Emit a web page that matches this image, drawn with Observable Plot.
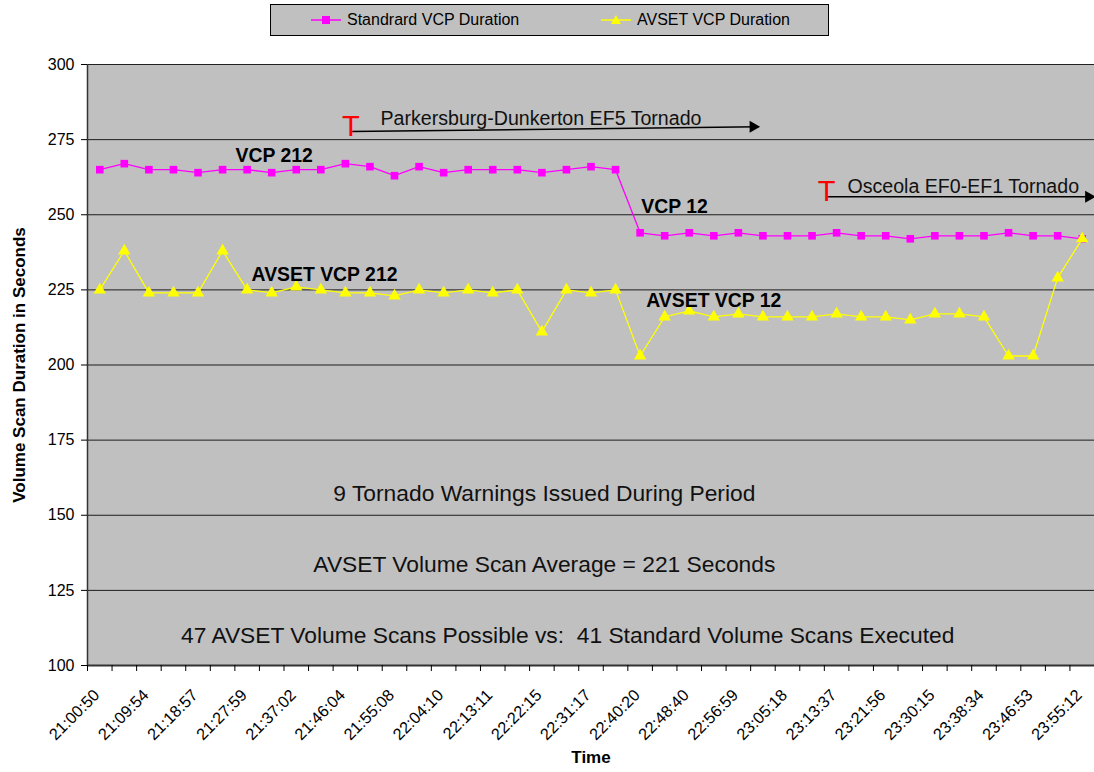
<!DOCTYPE html>
<html>
<head>
<meta charset="utf-8">
<script src="https://cdn.jsdelivr.net/npm/d3@7"></script>
<script src="https://cdn.jsdelivr.net/npm/@observablehq/plot@0.6"></script>
<style>
  body { margin: 0; background: #fff; font-family: "Liberation Sans", Arial, sans-serif; }
  #wrap { position: relative; width: 1094px; height: 772px; }
  #legend { position: absolute; left: 270px; top: 4px; width: 557px; height: 30px; background: #c0c0c0; border: 1px solid #000; }
  .item { position: absolute; top: 0; height: 30px; display: flex; align-items: center; font-size: 16px; color: #000; }
  .item svg { margin-right: 6px; }
  #chart { position: absolute; left: 0; top: 40px; }
</style>
</head>
<body>
<div id="wrap">
  <div id="legend"></div>
  <div id="chart"></div>
</div>
<script>
// ---- data ----
const tickLabels = ["21:00:50","21:09:54","21:18:57","21:27:59","21:37:02","21:46:04","21:55:08","22:04:10","22:13:11","22:22:15","22:31:17","22:40:20","22:48:40","22:56:59","23:05:18","23:13:37","23:21:56","23:30:15","23:38:34","23:46:53","23:55:12"];
const standardVCP = [265,267,265,265,264,265,265,264,265,265,267,266,263,266,264,265,265,265,264,265,266,265,244,243,244,243,244,243,243,243,244,243,243,242,243,243,243,244,243,243,242];
const avsetVCP = [225,238,224,224,224,238,225,224,226,225,224,224,223,225,224,225,224,225,211,225,224,225,203,216,218,216,217,216,216,216,217,216,216,215,217,217,216,203,203,229,242];
const seriesNames = ["Standrard VCP Duration", "AVSET VCP Duration"];
const seriesColors = ["#ff00ff", "#ffff00"];
const yTicks = [100,125,150,175,200,225,250,275,300];

const vcpLabels = [
  {text: "VCP 212", x: 7.1, y: 269.7},
  {text: "AVSET VCP 212", x: 9.15, y: 230},
  {text: "VCP 12", x: 23.4, y: 252.7},
  {text: "AVSET VCP 12", x: 25.0, y: 221.3}
];
const notes = [
  {text: "9 Tornado Warnings Issued During Period", x: 18.1, y: 157.3},
  {text: "AVSET Volume Scan Average = 221 Seconds", x: 18.1, y: 133.7},
  {text: "47 AVSET Volume Scans Possible vs:  41 Standard Volume Scans Executed", x: 19.05, y: 110}
];
const events = [
  {text: "Parkersburg-Dunkerton EF5 Tornado", tx: 11.43, ty: 282, x1: 10.22, y1: 277.7, x2: 26.82, y2: 279.3},
  {text: "Osceola EF0-EF1 Tornado", tx: 30.44, ty: 259.3, x1: 29.59, y1: 256, x2: 40.48, y2: 256}
];

// ---- legend ----
const legend = document.getElementById("legend");
const legendLeft = [40, 330];
seriesNames.forEach((name, i) => {
  const div = document.createElement("div");
  div.className = "item";
  div.style.left = legendLeft[i] + "px";
  const marker = i === 0
    ? `<rect x="11" y="5" width="8" height="8" fill="${seriesColors[i]}"/>`
    : `<path d="M15,4 L20,13 L10,13 Z" fill="${seriesColors[i]}"/>`;
  div.innerHTML = `<svg width="30" height="18"><line x1="0" x2="30" y1="9" y2="9" stroke="${seriesColors[i]}" stroke-width="1.5"/>${marker}</svg><span>${name}</span>`;
  legend.appendChild(div);
});

// ---- chart ----
const std = standardVCP.map((v, i) => ({i, v}));
const avs = avsetVCP.map((v, i) => ({i, v}));
const n = standardVCP.length;

const chart = Plot.plot({
  width: 1094,
  height: 732,
  marginTop: 24,
  marginBottom: 107,
  marginLeft: 87,
  marginRight: 0,
  style: {fontFamily: "'Liberation Sans', Arial, sans-serif", background: "transparent", color: "#000"},
  x: {domain: [-0.5, n - 0.5]},
  y: {domain: [100, 300]},
  marks: [
    Plot.frame({fill: "#c0c0c0", stroke: "none"}),
    Plot.ruleY(yTicks.filter(d => d > 100), {stroke: "#000", strokeWidth: 1, strokeOpacity: 0.85}),
    Plot.ruleY([100], {stroke: "#333", strokeWidth: 2}),
    Plot.ruleX([-0.5], {stroke: "#333", strokeWidth: 1.5}),
    Plot.axisY(yTicks, {tickSize: 6, tickPadding: 7, fontSize: 16, label: null}),
    Plot.axisX(d3.range(-0.5, n, 1), {tickSize: 6, tickFormat: () => "", label: null}),
    Plot.axisX(d3.range(0, n, 2), {tickSize: 0, tickPadding: 27, tickRotate: -45, fontSize: 16.3, dx: -3, tickFormat: d => tickLabels[d / 2], label: null}),
    Plot.line(std, {x: "i", y: "v", stroke: seriesColors[0], strokeWidth: 1.3}),
    Plot.dot(std, {x: "i", y: "v", symbol: "square", r: 4.3, fill: seriesColors[0], stroke: "none"}),
    Plot.line(avs, {x: "i", y: "v", stroke: seriesColors[1], strokeWidth: 1.3}),
    Plot.dot(avs, {x: "i", y: "v", symbol: "triangle", r: 4.6, fill: seriesColors[1], stroke: "none"}),
    Plot.text(vcpLabels, {x: "x", y: "y", text: "text", fontSize: 19.4, fontWeight: "bold", fill: "#000"}),
    Plot.text(notes, {x: "x", y: "y", text: "text", fontSize: 22.8, fill: "#111"}),
    Plot.link(events, {x1: "x1", y1: "y1", x2: "x2", y2: "y2", stroke: "#000", strokeWidth: 1.5}),
    Plot.dot(events, {x: d => d.x2 - 0.22, y: "y2", symbol: "triangle", r: 4.5, rotate: 90, fill: "#000", stroke: "none"}),
    Plot.text(events, {x: "x1", y: "y1", text: () => "T", fontSize: 29, fill: "#ff0000", lineAnchor: "bottom", dy: 4}),
    Plot.text(events, {x: "tx", y: "ty", text: "text", fontSize: 19.6, textAnchor: "start", fill: "#111"}),
    Plot.text(["Volume Scan Duration in Seconds"], {frameAnchor: "left", textAnchor: "middle", dx: -68, rotate: -90, fontSize: 17, fontWeight: "bold"}),
    Plot.text(["Time"], {frameAnchor: "bottom", dy: 97, fontSize: 17, fontWeight: "bold"})
  ]
});
document.getElementById("chart").appendChild(chart);
</script>
</body>
</html>
